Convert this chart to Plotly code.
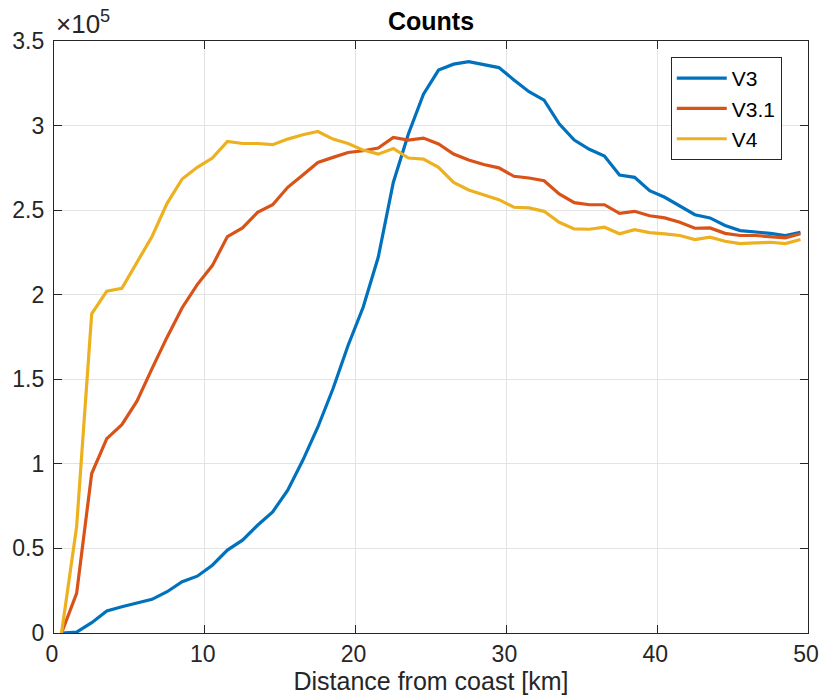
import plotly.graph_objects as go

distance_km = [i + 0.5 for i in range(50)]

v3 = [0, 0.005, 0.061, 0.13, 0.155, 0.175, 0.199, 0.244, 0.303, 0.336,
      0.401, 0.49, 0.549, 0.637, 0.716, 0.844, 1.021, 1.218, 1.444, 1.70,
      1.926, 2.221, 2.664, 2.95, 3.186, 3.328, 3.363, 3.378, 3.36, 3.343,
      3.27, 3.20, 3.15, 3.01, 2.914, 2.86, 2.82, 2.708, 2.694, 2.615,
      2.576, 2.527, 2.473, 2.454, 2.409, 2.379, 2.373, 2.363, 2.35, 2.369]

v3_1 = [0, 0.234, 0.943, 1.149, 1.232, 1.371, 1.563, 1.749, 1.923, 2.06,
        2.172, 2.344, 2.395, 2.487, 2.532, 2.635, 2.708, 2.782, 2.812, 2.841,
        2.851, 2.867, 2.93, 2.914, 2.926, 2.891, 2.832, 2.796, 2.77, 2.75,
        2.70, 2.69, 2.674, 2.596, 2.544, 2.532, 2.532, 2.481, 2.493, 2.467,
        2.454, 2.428, 2.393, 2.395, 2.363, 2.35, 2.35, 2.345, 2.336, 2.36]

v4 = [0, 0.628, 1.887, 2.021, 2.038, 2.192, 2.344, 2.54, 2.684, 2.753,
      2.808, 2.906, 2.894, 2.894, 2.887, 2.92, 2.946, 2.965, 2.92, 2.894,
      2.855, 2.831, 2.865, 2.808, 2.802, 2.753, 2.664, 2.619, 2.59, 2.562,
      2.517, 2.513, 2.493, 2.428, 2.389, 2.387, 2.399, 2.36, 2.385, 2.367,
      2.36, 2.35, 2.326, 2.34, 2.316, 2.302, 2.306, 2.31, 2.302, 2.326]

scale = 1e5
series_names = ["V3", "V3.1", "V4"]
series_values = [v3, v3_1, v4]
series_colors = ["#0072BD", "#D95319", "#EDB120"]

x_ticks = [0, 10, 20, 30, 40, 50]
y_tick_labels = ["0", "0.5", "1", "1.5", "2", "2.5", "3", "3.5"]
y_ticks = [float(t) * scale for t in y_tick_labels]

FONT = "Liberation Sans"
FIG_W, FIG_H = 819, 696

fig = go.Figure()
for name, vals, col in zip(series_names, series_values, series_colors):
    fig.add_trace(go.Scatter(
        x=distance_km, y=[v * scale for v in vals], mode="lines", name=name,
        line=dict(color=col, width=3.2)))

axis_common = dict(
    showline=True, linecolor="#262626", linewidth=1.2, mirror="ticks",
    ticks="inside", ticklen=8, tickwidth=1.2, tickcolor="#262626",
    showgrid=True, gridcolor="#e3e3e3", gridwidth=1, zeroline=False,
    automargin=False,
)

fig.update_layout(
    width=FIG_W, height=FIG_H,
    margin=dict(l=54, r=11, t=41, b=63),
    paper_bgcolor="white", plot_bgcolor="white",
    title=dict(text="<b>Counts</b>", x=431 / FIG_W, xanchor="center",
               y=1 - 21 / FIG_H, yanchor="middle", yref="container",
               font=dict(family=FONT, size=25, color="black")),
    xaxis=dict(range=[0, 50], tickvals=x_ticks, ticklabeloverflow="allow",
               ticklabelshift=-2,
               tickfont=dict(family=FONT, size=23, color="#262626"),
               title=dict(text="Distance from coast [km]", standoff=2,
                          font=dict(family=FONT, size=25, color="#262626")),
               **axis_common),
    yaxis=dict(range=[0, 3.5 * scale], tickvals=y_ticks, ticktext=y_tick_labels,
               ticklabelstandoff=4,
               tickfont=dict(family=FONT, size=23, color="#262626"),
               **axis_common),
    legend=dict(x=0.818, y=0.973, xanchor="left", yanchor="top",
                bordercolor="#262626", borderwidth=1, bgcolor="white",
                font=dict(family=FONT, size=21, color="black"),
                itemwidth=50, tracegroupgap=0),
    showlegend=True,
)

fig.add_annotation(xref="paper", yref="paper", x=0, y=1, xanchor="left",
                   yanchor="bottom", showarrow=False, xshift=0, yshift=0,
                   text="×10<sup>5</sup>",
                   font=dict(family=FONT, size=26, color="#262626"))

fig.write_html("out.html",
               config={"displayModeBar": False},
               post_script="document.body.style.margin='0';"
                           "document.body.style.overflow='hidden';")
